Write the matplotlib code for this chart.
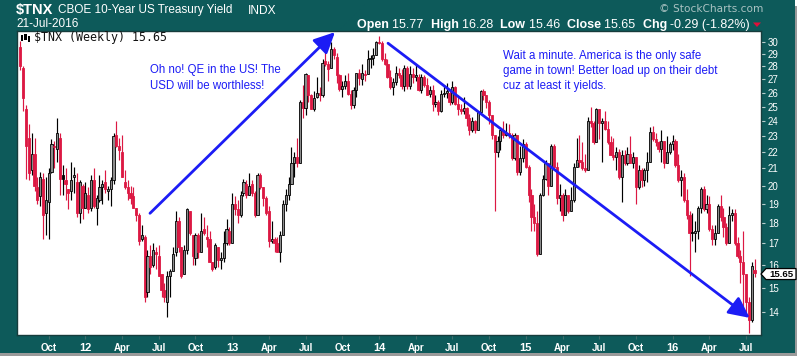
import matplotlib
matplotlib.use('Agg')
import matplotlib.pyplot as plt
import numpy as np
import pandas as pd
from matplotlib.patches import Rectangle, Polygon
from matplotlib.ticker import FixedLocator, NullLocator, FuncFormatter

# ---------------- data ($TNX weekly, yield x10) ----------------
first_week = '2011-07-25'

opens_2011 = [29.6,27.9,24.8,22.9,20.9,21.9,19.9,19.4,20.4,18.5,19.1,20.8,22.4,22.2,22.9,20.6,20.3,19.8,19.7,20.5,20.2,18.5,20.0]
highs_2011 = [30.1,28.0,25.1,23.8,23.2,22.9,20.5,20.8,20.7,20.5,21.0,22.8,22.7,24.2,23.2,21.2,21.0,19.8,21.4,21.1,20.7,20.3,20.1]
lows_2011 = [27.7,24.7,20.4,20.3,20.6,19.7,19.0,18.9,17.2,17.4,17.2,20.7,21.0,21.4,19.5,19.5,19.2,18.7,19.2,19.6,18.3,18.0,18.2]
closes_2011 = [28.0,25.6,22.4,20.7,21.9,20.0,19.2,20.5,18.4,19.2,20.7,22.5,22.3,23.2,20.4,20.4,20.1,19.6,20.3,20.6,18.5,20.2,18.8]

opens_2012 = [18.8,19.5,18.8,20.3,18.8,19.2,19.9,20.2,19.7,19.8,20.3,23.1,22.4,22.0,20.2,19.9,19.6,19.4,18.8,18.4,17.2,17.3,14.8,16.4,16.0,16.6,16.4,15.6,14.9,14.4,15.5,15.7,16.6,18.1,16.8,15.6,16.7,18.6,17.4,16.3,17.4,16.6,17.7,17.3,17.2,16.1,15.9,16.8,16.2,16.3,17.0,17.6,17.0]
highs_2012 = [20.2,19.9,20.6,21.0,19.5,20.6,20.3,20.9,20.0,20.5,23.2,24.0,22.9,23.1,20.9,20.3,20.0,19.9,18.8,18.5,17.9,17.4,16.7,16.9,17.0,16.8,16.9,15.6,15.2,15.7,15.8,16.8,18.6,18.3,16.8,16.9,18.8,18.6,17.4,17.5,17.5,18.5,18.3,17.9,17.6,16.1,17.0,16.8,16.6,17.6,18.2,17.8,19.6]
lows_2012 = [18.8,18.5,18.6,18.8,17.9,19.1,19.0,19.6,19.2,18.9,20.1,22.3,21.5,20.5,19.8,19.2,19.0,18.8,18.1,16.9,17.1,14.4,14.6,15.6,15.9,15.8,15.5,14.6,14.4,13.8,14.6,15.7,16.4,16.6,15.4,15.6,16.5,17.4,16.0,16.0,16.3,16.6,17.4,16.8,16.1,15.7,15.8,15.9,15.8,16.1,16.9,16.9,17.0]
closes_2012 = [19.6,18.7,20.3,18.9,19.3,19.9,20.1,19.8,19.8,20.3,23.0,22.4,22.1,20.5,19.9,19.6,19.3,18.8,18.4,17.1,17.4,14.6,16.4,15.9,16.7,16.5,15.5,14.9,14.6,15.5,15.7,16.5,18.1,16.8,15.5,16.7,18.7,17.5,16.4,17.4,16.6,17.6,17.5,17.2,16.1,15.8,16.9,16.2,16.3,17.0,17.7,17.0,19.0]

opens_2013 = [19.0,18.7,18.4,19.6,20.1,19.5,20.1,19.6,18.4,20.6,19.9,19.3,18.6,17.1,17.2,17.0,16.6,17.4,19.0,19.5,20.1,21.3,21.7,21.3,25.3,24.9,27.3,25.8,24.8,25.7,26.0,25.8,28.4,28.2,27.9,29.4,28.8,27.3,26.3,26.5,26.9,25.9,25.1,26.2,27.5,27.0,27.4,27.4,28.6,28.7,28.9,30.0]
highs_2013 = [19.4,19.2,19.7,20.4,20.3,20.7,20.3,19.7,20.7,20.7,19.9,19.4,18.9,18.1,17.3,17.3,17.6,19.2,19.8,20.5,22.3,22.0,22.9,25.5,26.6,27.5,27.3,25.9,26.1,27.2,26.4,28.6,29.3,28.4,30.0,29.6,29.1,27.4,26.9,27.3,27.5,26.2,26.4,27.5,27.8,28.2,27.7,29.3,28.9,29.5,30.1,30.5]
lows_2013 = [18.4,18.0,18.3,19.4,19.3,19.5,19.4,18.3,18.4,19.8,18.9,18.4,16.8,17.0,16.6,16.6,16.1,17.4,18.6,19.2,20.1,20.5,21.1,21.3,24.2,24.4,25.3,24.8,24.7,25.6,25.4,25.7,28.0,26.9,27.9,28.6,26.7,26.1,25.7,26.3,25.8,24.8,24.9,25.7,26.6,26.6,26.9,27.4,27.9,28.1,28.9,29.8]
closes_2013 = [18.7,18.4,19.5,20.2,19.5,20.0,19.6,18.4,20.6,19.9,19.3,18.5,17.1,17.2,17.0,16.6,17.4,19.0,19.5,20.1,21.3,21.7,21.3,25.3,24.9,27.4,25.8,24.8,25.6,26.0,25.8,28.3,28.2,27.8,29.4,28.9,27.3,26.3,26.5,26.9,25.9,25.1,26.2,27.5,27.1,27.5,27.3,28.6,28.7,28.9,30.0,29.9]

opens_2014 = [29.9,28.6,28.2,27.2,26.4,26.8,27.5,27.3,26.5,27.9,26.5,27.4,27.2,27.2,26.2,27.2,26.6,25.9,26.2,25.2,25.3,24.7,25.9,26.0,26.0,25.3,26.4,25.2,24.8,24.7,24.9,24.2,23.4,24.0,23.4,24.6,26.1,25.8,25.3,24.4,23.1,22.0,22.7,23.4,23.1,23.2,23.1,21.6,23.1,20.8,21.6,22.5]
highs_2014 = [30.1,29.1,28.6,27.7,27.1,28.0,27.9,27.8,28.1,28.0,28.0,27.9,28.1,27.4,27.4,27.3,27.1,26.5,26.6,25.8,25.5,26.2,26.6,26.7,26.2,26.9,26.5,25.8,25.2,25.7,25.0,24.5,24.3,24.1,24.7,26.2,26.3,25.8,25.5,24.4,23.1,23.0,23.6,24.0,23.9,23.8,23.2,23.2,23.1,22.4,22.8,22.6]
lows_2014 = [28.4,28.1,27.1,26.3,25.8,26.6,27.1,26.3,26.1,26.3,26.3,26.7,26.9,26.1,26.0,26.4,25.8,25.7,24.7,25.0,24.4,24.6,25.7,25.6,25.1,25.2,25.1,24.4,24.5,24.5,23.7,23.1,23.3,23.2,23.4,24.5,25.5,24.9,23.8,22.8,18.6,21.7,22.1,22.9,23.0,22.9,21.5,21.5,20.6,20.6,21.4,21.0]
closes_2014 = [28.6,28.2,27.2,26.4,26.8,27.5,27.3,26.5,27.9,26.5,27.4,27.2,27.3,26.2,27.2,26.6,25.8,26.2,25.2,25.3,24.7,25.9,26.0,26.1,25.3,26.4,25.2,24.8,24.7,24.9,24.2,23.4,24.0,23.4,24.6,26.1,25.8,25.3,24.4,23.1,22.0,22.7,23.4,23.1,23.2,23.1,21.6,23.1,20.8,21.6,22.5,21.1]

opens_2015 = [21.1,19.5,18.3,18.0,16.5,19.5,20.4,21.3,20.0,22.4,21.1,19.3,19.5,18.4,19.5,18.6,19.2,21.1,21.5,21.4,21.0,20.9,24.0,23.9,22.6,24.8,23.9,24.0,23.5,22.6,21.8,21.7,22.0,20.5,21.8,21.3,21.9,21.3,21.7,19.9,20.9,20.3,20.9,21.4,23.3,22.8,22.6,22.2,22.7,21.3,22.0,22.5]
highs_2015 = [21.2,19.8,19.0,18.6,19.6,20.6,21.5,21.3,22.5,22.5,21.4,20.1,19.6,19.8,19.5,19.9,21.3,22.9,23.1,22.6,21.9,24.3,25.0,24.0,24.9,24.8,24.2,24.7,24.0,23.0,22.9,22.3,22.2,22.1,22.1,22.3,23.0,22.0,21.7,21.2,21.0,21.0,22.0,23.6,23.7,23.2,22.7,23.4,22.7,23.0,22.6,23.1]
lows_2015 = [19.1,17.6,17.6,16.4,16.5,19.4,20.3,19.5,20.0,20.9,19.0,18.6,18.1,18.4,18.5,18.6,19.1,21.1,21.1,20.9,20.8,20.9,23.6,22.5,22.6,22.8,21.4,23.4,22.5,21.8,21.5,20.9,20.4,19.1,21.2,21.2,21.3,21.0,19.0,19.8,19.9,20.0,20.2,21.4,22.7,22.4,22.0,21.4,21.0,21.3,21.9,22.1]
closes_2015 = [19.5,18.3,18.0,16.5,19.5,20.4,21.3,20.0,22.4,21.1,19.3,19.5,18.4,19.5,18.6,19.2,21.1,21.5,21.4,21.0,20.9,24.0,23.9,22.6,24.8,23.9,24.0,23.5,22.6,21.8,21.7,22.0,20.5,21.8,21.3,21.9,21.3,21.7,19.9,20.9,20.3,20.9,21.4,23.3,22.8,22.6,22.2,22.7,21.3,22.0,22.5,22.7]

opens_2016 = [22.7,21.2,20.3,20.5,19.2,18.4,17.5,17.5,17.6,18.8,19.8,18.7,19.0,17.7,17.2,17.5,18.9,18.3,17.8,17.0,18.4,18.5,17.0,16.4,16.1,15.6,14.4,13.7,15.77]
highs_2016 = [22.8,21.9,20.9,20.7,19.8,18.6,18.5,18.1,18.9,19.9,20.0,19.5,19.4,17.9,17.9,19.0,19.5,18.8,18.0,18.9,18.7,18.7,17.3,16.7,17.6,15.6,14.6,16.1,16.28]
lows_2016 = [21.1,20.2,19.4,19.1,18.2,15.5,17.1,16.6,17.2,18.5,18.6,18.5,17.6,16.9,16.9,17.5,18.1,17.3,16.9,17.0,18.1,16.9,16.3,15.2,14.1,13.9,13.2,13.6,15.46]
closes_2016 = [21.2,20.3,20.5,19.2,18.4,17.5,17.5,17.6,18.8,19.8,18.7,19.0,17.7,17.2,17.5,18.9,18.3,17.8,17.0,18.4,18.5,17.0,16.4,16.1,15.6,14.4,13.7,15.94,15.65]

y_ticks = list(range(14, 31))
month_names = {4: 'Apr', 7: 'Jul', 10: 'Oct'}

ann1 = "Oh no! QE in the US! The\nUSD will be worthless!"
ann2 = "Wait a minute. America is the only safe\ngame in town! Better load up on their debt\ncuz at least it yields."

# ---------------- assemble ----------------
opens = np.array(opens_2011 + opens_2012 + opens_2013 + opens_2014 + opens_2015 + opens_2016)
highs = np.array(highs_2011 + highs_2012 + highs_2013 + highs_2014 + highs_2015 + highs_2016)
lows = np.array(lows_2011 + lows_2012 + lows_2013 + lows_2014 + lows_2015 + lows_2016)
closes = np.array(closes_2011 + closes_2012 + closes_2013 + closes_2014 + closes_2015 + closes_2016)
n = len(closes)
dates = pd.date_range(first_week, periods=n, freq='W-MON')
xs = np.arange(n)

W, H = 800, 359
TEAL = '#0d5a5a'
RED = '#dc1843'
HOLLOW = '#8c8c8c'
BLUE = '#1c1cf5'

fig = plt.figure(figsize=(W / 100, H / 100), dpi=100)
fig.patch.set_facecolor(TEAL)
renderer = fig.canvas.get_renderer()


def P(x, y):
    return (x / W, 1 - y / H)


def fit_text(x, y, s, width, size0, **kw):
    """Place text at pixel (x, y) with font size scaled so its width is `width` px."""
    t = fig.text(*P(x, y), s, fontsize=size0, **kw)
    w = t.get_window_extent(renderer).width
    t.set_fontsize(size0 * width / w)
    return t


# shadow / white margins at bottom and right
fig.add_artist(Rectangle(P(0, H), 1, 6 / H, transform=fig.transFigure, facecolor='white', edgecolor='none', zorder=0))
fig.add_artist(Rectangle(P(0, 356), 1, 3 / H, transform=fig.transFigure, facecolor='#9a9a9a', edgecolor='none', zorder=0))
fig.add_artist(Rectangle(P(795, H), 5 / W, 1, transform=fig.transFigure, facecolor='white', edgecolor='none', zorder=0))
fig.add_artist(Rectangle(P(795, 356), 2 / W, 350 / H, transform=fig.transFigure, facecolor='#9a9a9a', edgecolor='none', zorder=0))

L, R, T, B = 17, 761, 31, 335
ax = fig.add_axes([L / W, 1 - B / H, (R - L) / W, (B - T) / H])
ax.set_facecolor('white')
ax.set_yscale('log')
ax.set_ylim(13.12, 30.95)
ax.set_xlim(-1.2, n + 1.3)
for s in ax.spines.values():
    s.set_color('#163c3c')
    s.set_linewidth(1.0)

prev = np.r_[opens[0], closes[:-1]]
bw = 0.78
for i in range(n):
    o, h, l, c = opens[i], highs[i], lows[i], closes[i]
    col = 'black' if c >= prev[i] else RED
    ax.vlines(xs[i], l, h, color=col, lw=0.85, zorder=2)
    lo, hi = min(o, c), max(o, c)
    if hi / lo < 1.004:
        hi = lo * 1.004
    face = HOLLOW if c > o else col
    ax.add_patch(Rectangle((xs[i] - bw / 2, lo), bw, hi - lo, facecolor=face,
                           edgecolor=col, lw=0.6, zorder=3))

# y axis on the right
ax.yaxis.set_major_locator(FixedLocator(y_ticks))
ax.yaxis.set_minor_locator(NullLocator())
ax.yaxis.set_major_formatter(FuncFormatter(lambda v, p: f'{v:.0f}'))
ax.yaxis.tick_right()
ax.tick_params(axis='y', which='major', colors='#b8cccc', labelcolor='white',
               labelsize=7, length=3, width=0.8, pad=2)
for t in ax.get_yticklabels():
    t.set_fontfamily('Liberation Sans')

# x axis ticks at first trading week of quarter months
tpos, tlab, tbold = [], [], []
for ms in pd.date_range('2011-08-01', '2016-08-01', freq='MS'):
    if ms.month not in (1, 4, 7, 10):
        continue
    fb = ms if ms.weekday() < 5 else ms + pd.offsets.BDay(1)
    idx = np.searchsorted(dates.values, np.datetime64(fb), side='right') - 1
    if 0 <= idx < n:
        tpos.append(xs[idx])
        if ms.month == 1:
            tlab.append(f'{ms.year % 100:02d}')
            tbold.append(True)
        else:
            tlab.append(month_names[ms.month])
            tbold.append(False)
ax.set_xticks(tpos)
ax.set_xticklabels(tlab)
ax.tick_params(axis='x', colors='#3d6d6d', labelcolor='white', labelsize=7,
               length=3, width=0.8, pad=3)
for t, b in zip(ax.get_xticklabels(), tbold):
    t.set_fontfamily('Liberation Sans')
    t.set_fontweight('bold')
    if b:
        t.set_fontsize(8)

# arrows (blue annotations)
ax.annotate('', xy=(111.4, 30.85), xytext=(45.9, 18.5),
            arrowprops=dict(arrowstyle='-|>,head_length=0.45,head_width=0.22',
                            color=BLUE, lw=2.0, mutation_scale=28, shrinkA=0, shrinkB=0),
            zorder=6, annotation_clip=False)
ax.annotate('', xy=(258.3, 13.77), xytext=(130.2, 29.9),
            arrowprops=dict(arrowstyle='-|>,head_length=0.45,head_width=0.22',
                            color=BLUE, lw=2.0, mutation_scale=28, shrinkA=0, shrinkB=0),
            zorder=6, annotation_clip=False)

fig.text(*P(150, 78), ann1, color=BLUE, fontsize=8.3, family='Liberation Sans',
         va='center', ha='left', linespacing=1.35, zorder=7)
fig.text(*P(503, 71), ann2, color=BLUE, fontsize=8.3, family='Liberation Sans',
         va='center', ha='left', linespacing=1.35, zorder=7)

# in-plot legend
for k, (yy0, yy1) in enumerate([(35, 41), (34, 40), (36, 42)]):
    fig.add_artist(Rectangle(P(21 + 3.3 * k, yy1), 2.2 / W, (yy1 - yy0) / H,
                             transform=fig.transFigure, facecolor='black', edgecolor='none', zorder=8))
fit_text(34, 38, '$TNX (Weekly) 15.65', 134, 8.2, family='DejaVu Sans Mono',
         color='#111111', va='center', ha='left', zorder=8)

# price tag on the right axis
fig.canvas.draw()
yp = ax.transData.transform((0, closes[-1]))[1]
ypix = H - yp + 1.5
tag = Polygon([P(761, ypix), P(766, ypix - 5.5), P(796, ypix - 5.5),
               P(796, ypix + 5.5), P(766, ypix + 5.5)], closed=True,
              transform=fig.transFigure, facecolor='white', edgecolor='black', lw=0.9, zorder=9)
fig.add_artist(tag)
fig.text(*P(781.5, ypix + 0.5), f'{closes[-1]:.2f}', fontsize=6.8, fontweight='bold',
         family='Liberation Sans', color='black', ha='center', va='center', zorder=10)

# header
fit_text(16, 10, '$TNX', 37, 10, fontweight='bold', family='Liberation Sans',
         color='white', va='center', ha='left')
fit_text(58, 10, 'CBOE 10-Year US Treasury Yield', 175, 8, family='Liberation Sans',
         color='white', va='center', ha='left')
fit_text(248, 10.5, 'INDX', 28, 7, family='Liberation Sans',
         color='white', va='center', ha='left')
fit_text(16, 24, '21-Jul-2016', 63, 8, family='Liberation Sans',
         color='white', va='center', ha='left')
fit_text(659, 9, '\u00a9 StockCharts.com', 102, 7.2, family='DejaVu Sans',
         color='#aac2c2', va='center', ha='left')

chg = closes[-1] - closes[-2]
pieces = [('Open ', True), (f'{opens[-1]:.2f}  ', False), ('High ', True), (f'{highs[-1]:.2f}  ', False),
          ('Low ', True), (f'{lows[-1]:.2f}  ', False), ('Close ', True), (f'{closes[-1]:.2f}  ', False),
          ('Chg ', True), (f'{chg:.2f} ({chg / closes[-2] * 100:.2f}%)', False)]


def draw_pieces(size, x0):
    arts = []
    xcur = x0
    for txt, bold in pieces:
        t = fig.text(*P(xcur, 25), txt, fontsize=size, fontweight='bold' if bold else 'normal',
                     family='Liberation Sans', color='white', va='center', ha='left')
        xcur += t.get_window_extent(renderer).width
        arts.append(t)
    return arts, xcur


arts, xend = draw_pieces(8, 357)
scale = (750 - 357) / (xend - 357)
for a in arts:
    a.remove()
arts, xend = draw_pieces(8 * scale, 357)
fig.add_artist(Polygon([P(xend + 3, 22.5), P(xend + 11, 22.5), P(xend + 7, 27)], closed=True,
                       transform=fig.transFigure, facecolor='#e0103a', edgecolor='none'))

fig.savefig('out.png', dpi=100, facecolor=fig.get_facecolor())
